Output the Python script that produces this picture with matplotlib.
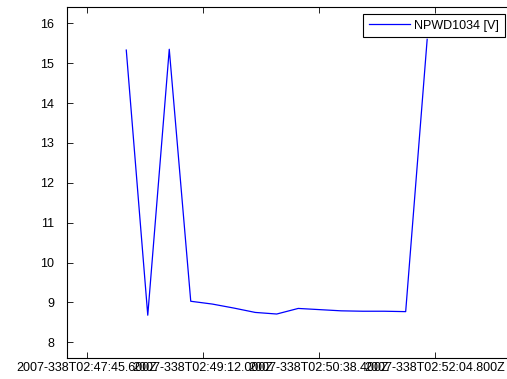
import numpy as np
import matplotlib
matplotlib.use('Agg')
import matplotlib.pyplot as plt

# waktu sampel (detik sejak 2007-338T02:47:45.600Z) dan nilai tegangan
t_detik = np.array([29.4, 45.4, 61.4, 77.4, 93.4, 109.4, 125.4, 141.4,
                    157.4, 173.4, 189.4, 205.4, 221.4, 237.4, 253.4])
nilai = np.array([15.33, 8.68, 15.35, 9.03, 8.96, 8.86, 8.75, 8.71,
                  8.85, 8.82, 8.79, 8.78, 8.78, 8.77, 15.6])
nama_seri = 'NPWD1034 [V]'

xtick_pos = [0.0, 86.4, 172.8, 259.2]
xtick_label = ['2007-338T02:47:45.600Z', '2007-338T02:49:12.000Z',
               '2007-338T02:50:38.400Z', '2007-338T02:52:04.800Z']
ytick_pos = [8, 9, 10, 11, 12, 13, 14, 15, 16]

plt.rcParams['font.family'] = ['Liberation Sans', 'DejaVu Sans']

fig = plt.figure(figsize=(5.07, 3.79), dpi=100)
W, H = 507.0, 379.0
# sumbu kanan sengaja di luar gambar (terpotong seperti referensi)
ax = fig.add_axes([66.5 / W, (H - 358) / H, (516 - 66.5) / W, (358 - 7) / H])

ax.plot(t_detik, nilai, color='#0000ff', lw=0.9, label=nama_seri)

ax.set_xlim(-15.1, (516 - 87) / 1.3426)
ax.set_ylim(7.607, 16.41)
ax.set_xticks(xtick_pos)
ax.set_xticklabels(xtick_label)
ax.set_yticks(ytick_pos)
ax.tick_params(direction='in', length=4.5, width=0.6, labelsize=9,
               top=True, right=True, colors='black')
ax.tick_params(axis='y', pad=9)
ax.tick_params(axis='x', pad=3)
for s in ax.spines.values():
    s.set_linewidth(0.8)

leg = ax.legend(loc='upper right', bbox_to_anchor=(505 / W, 1 - 14 / H),
                bbox_transform=fig.transFigure, borderaxespad=0,
                fancybox=False, framealpha=1, edgecolor='black',
                fontsize=9, handlelength=3.3, handletextpad=0.35,
                borderpad=0.45)
leg.get_frame().set_linewidth(0.8)

fig.savefig('out.png', dpi=100)
